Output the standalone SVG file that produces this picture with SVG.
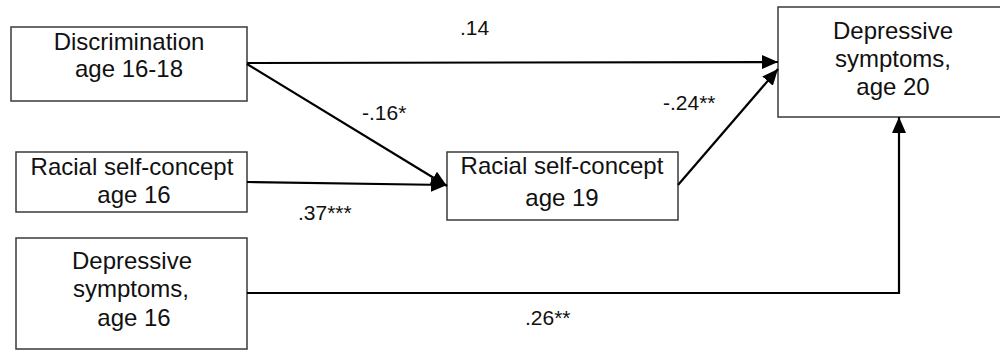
<svg xmlns="http://www.w3.org/2000/svg" width="1000" height="351" viewBox="0 0 1000 351">
<style>
.box{fill:#fff;stroke:#3a3a3a;stroke-width:1.5}
.t{font-family:"Liberation Sans",Arial,sans-serif;font-size:24px;fill:#111;text-anchor:middle}
.lb{font-family:"Liberation Sans",Arial,sans-serif;font-size:21px;fill:#111}
.c{fill:none;stroke:#000;stroke-width:2.2}
</style>
<defs>
<marker id="ah" viewBox="0 0 16 14" refX="16" refY="7" markerWidth="16" markerHeight="14" markerUnits="userSpaceOnUse" orient="auto">
<path d="M0,0 L16,7 L0,14 Z" fill="#000"/>
</marker>
</defs>
<rect width="1000" height="351" fill="#fff"/>
<g id="n-disc">
<rect class="box" x="11" y="27" width="236" height="74"/>
<text class="t" x="129" y="50">Discrimination</text>
<text class="t" x="129" y="77">age 16-18</text>
</g>
<g id="n-rsc16">
<rect class="box" x="16" y="152" width="231" height="60"/>
<text class="t" x="132" y="175">Racial self-concept</text>
<text class="t" x="134" y="203">age 16</text>
</g>
<g id="n-dep16">
<rect class="box" x="16" y="238" width="231" height="111"/>
<text class="t" x="132" y="269">Depressive</text>
<text class="t" x="131" y="297">symptoms,</text>
<text class="t" x="134" y="326">age 16</text>
</g>
<g id="n-rsc19">
<rect class="box" x="447" y="152" width="231" height="68"/>
<text class="t" x="562" y="174">Racial self-concept</text>
<text class="t" x="562" y="206">age 19</text>
</g>
<g id="n-dep20">
<rect class="box" x="778" y="7" width="232" height="110"/>
<text class="t" x="893" y="39">Depressive</text>
<text class="t" x="893" y="67">symptoms,</text>
<text class="t" x="893" y="95">age 20</text>
</g>
<g id="connectors">
<line class="c" x1="247" y1="63" x2="778" y2="62" marker-end="url(#ah)"/>
<line class="c" x1="247" y1="64" x2="447" y2="186" marker-end="url(#ah)"/>
<line class="c" x1="247" y1="182" x2="447" y2="185" marker-end="url(#ah)"/>
<line class="c" x1="678" y1="185" x2="778" y2="69" marker-end="url(#ah)"/>
<polyline class="c" points="247,293 899,293 899,117" marker-end="url(#ah)"/>
</g>
<g id="labels">
<text class="lb" x="460" y="35">.14</text>
<text class="lb" x="362" y="120">-.16*</text>
<text class="lb" x="663" y="110">-.24**</text>
<text class="lb" x="298" y="220">.37***</text>
<text class="lb" x="525" y="325">.26**</text>
</g>
</svg>
